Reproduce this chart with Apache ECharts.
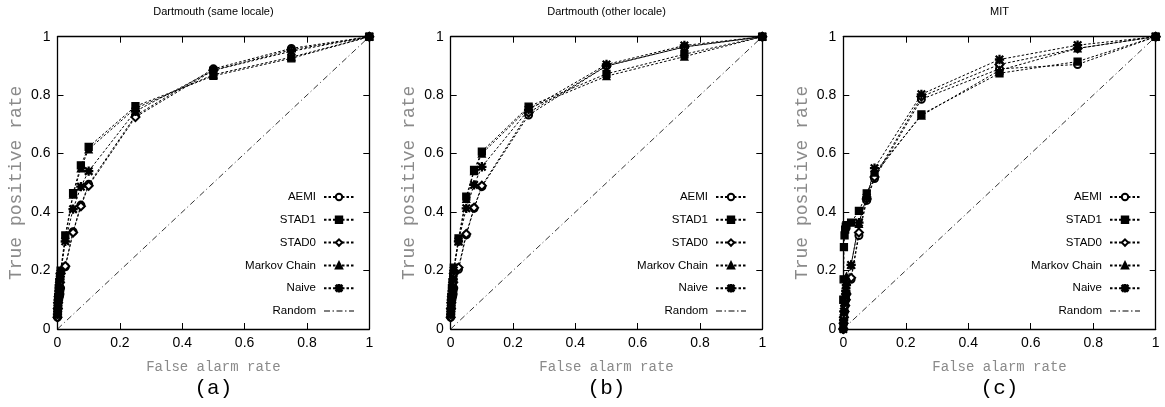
<!DOCTYPE html>
<html><head><meta charset="utf-8">
<script src="https://cdn.jsdelivr.net/npm/echarts@6/dist/echarts.min.js"></script>
<style>html,body{margin:0;padding:0;background:#fff}#c{width:1165px;height:407px}</style>
</head><body><div id="c"></div>
<script>
// ---- data ----
const panelTitles = ['Dartmouth (same locale)', 'Dartmouth (other locale)', 'MIT'];
const panelLetters = ['(a)', '(b)', '(c)'];
const seriesNames = ['AEMI', 'STAD1', 'STAD0', 'Markov Chain', 'Naive', 'Random'];
const tickLabels = ['0', '0.2', '0.4', '0.6', '0.8', '1'];
const fpr = [0, 0.001, 0.002, 0.004, 0.006, 0.008, 0.01, 0.025, 0.05, 0.075, 0.1, 0.25, 0.5, 0.75, 1];
const randomX = [0, 1];
const randomY = [0, 1];

const aemiA   = [0.04,0.06,0.08,0.10,0.11,0.12,0.14,0.213,0.333,0.424,0.495,0.730,0.890,0.960,1];
const stad1A  = [0.05,0.08,0.11,0.14,0.16,0.18,0.20,0.320,0.465,0.560,0.623,0.762,0.866,0.926,1];
const stad0A  = [0.04,0.07,0.09,0.11,0.13,0.16,0.19,0.215,0.330,0.420,0.490,0.725,0.885,0.955,1];
const markovA = [0.05,0.08,0.10,0.13,0.15,0.17,0.19,0.310,0.460,0.550,0.615,0.755,0.870,0.930,1];
const naiveA  = [0.05,0.07,0.10,0.12,0.14,0.17,0.19,0.300,0.410,0.487,0.540,0.745,0.885,0.950,1];

const aemiB   = [0.04,0.06,0.08,0.10,0.11,0.12,0.14,0.204,0.322,0.413,0.487,0.732,0.900,0.965,1];
const stad1B  = [0.05,0.08,0.11,0.14,0.16,0.18,0.21,0.310,0.453,0.544,0.607,0.761,0.873,0.940,1];
const stad0B  = [0.04,0.07,0.09,0.11,0.13,0.16,0.19,0.210,0.325,0.415,0.490,0.740,0.900,0.965,1];
const markovB = [0.05,0.08,0.10,0.13,0.15,0.17,0.20,0.300,0.445,0.540,0.600,0.755,0.865,0.932,1];
const naiveB  = [0.05,0.07,0.10,0.12,0.14,0.17,0.20,0.300,0.413,0.493,0.555,0.750,0.905,0.970,1];

const aemiC   = [0.00,0.02,0.04,0.06,0.08,0.10,0.12,0.170,0.320,0.440,0.515,0.786,0.890,0.905,1];
const stad1C  = [0.10,0.17,0.28,0.32,0.34,0.35,0.355,0.364,0.404,0.464,0.527,0.734,0.875,0.915,1];
const stad0C  = [0.00,0.02,0.04,0.06,0.08,0.10,0.12,0.175,0.330,0.445,0.520,0.795,0.905,0.960,1];
const markovC = [0.01,0.03,0.06,0.09,0.12,0.15,0.18,0.220,0.360,0.455,0.535,0.730,0.885,0.960,1];
const naiveC  = [0.00,0.03,0.06,0.09,0.11,0.13,0.15,0.219,0.364,0.450,0.550,0.803,0.922,0.971,1];

const panelData = [
  [aemiA, stad1A, stad0A, markovA, naiveA],
  [aemiB, stad1B, stad0B, markovB, naiveB],
  [aemiC, stad1C, stad0C, markovC, naiveC]
];

// ---- layout / style ----
const grids = [
  {left: 57.5, top: 36.7, width: 311.8, height: 292.3},
  {left: 450.7, top: 36.7, width: 311.6, height: 292.3},
  {left: 843.3, top: 36.7, width: 312.4, height: 292.3}
];
const legendRight = [810, 418, 24];
const sans = "'Liberation Sans','Arimo',sans-serif";
const mono = "'Liberation Mono','DejaVu Sans Mono',monospace";
const asterisk = 'path://M4.4,0 L5.6,0 L5.6,10 L4.4,10 Z M0,4.4 L10,4.4 L10,5.6 L0,5.6 Z M1.3,0.5 L9.5,8.7 L8.7,9.5 L0.5,1.3 Z M8.7,0.5 L9.5,1.3 L1.3,9.5 L0.5,8.7 Z';
// dash-dot sample for the legend (30x8 box, line in the middle)
const dashDotIcon = 'path://M0,0 L0.01,0 L0.01,0.01 Z M30,8 L29.99,8 L29.99,7.99 Z ' +
  'M0,3.6 L6,3.6 L6,4.4 L0,4.4 Z M8.5,3.6 L10,3.6 L10,4.4 L8.5,4.4 Z ' +
  'M12.5,3.6 L18.5,3.6 L18.5,4.4 L12.5,4.4 Z M21,3.6 L22.5,3.6 L22.5,4.4 L21,4.4 Z ' +
  'M25,3.6 L30,3.6 L30,4.4 L25,4.4 Z';
const symbols = [
  {symbol: 'emptyCircle', size: 7},
  {symbol: 'rect', size: 7},
  {symbol: 'emptyDiamond', size: 8},
  {symbol: 'triangle', size: 7},
  {symbol: asterisk, size: 8}
];

const option = {
  animation: false,
  backgroundColor: '#fff',
  title: [], grid: [], xAxis: [], yAxis: [], series: [], legend: []
};

const axisLineStyle = {color: '#000', width: 1.3};
grids.forEach((g, i) => {
  option.grid.push(Object.assign({containLabel: false}, g));
  option.title.push({
    text: panelTitles[i], left: g.left + g.width / 2, top: 6, textAlign: 'center', padding: 0,
    textStyle: {fontFamily: sans, fontSize: 11, fontWeight: 'normal', color: '#000'}
  });
  option.title.push({
    text: panelLetters[i], left: g.left + g.width / 2, top: 378, textAlign: 'center', padding: 0,
    textStyle: {fontFamily: mono, fontSize: 21, fontWeight: 'normal', color: '#000'}
  });
  const common = {
    type: 'value', min: 0, max: 1, interval: 0.2, gridIndex: i,
    splitLine: {show: false},
    axisLine: {show: true, onZero: false, lineStyle: axisLineStyle},
    axisTick: {show: true, inside: true, length: 6, lineStyle: {color: '#000', width: 1}}
  };
  option.xAxis.push(Object.assign({}, common, {
    position: 'bottom',
    name: 'False alarm rate', nameLocation: 'middle', nameGap: 31,
    nameTextStyle: {fontFamily: mono, fontSize: 14, color: '#8a8a8a'},
    axisLabel: {margin: 7, fontFamily: sans, fontSize: 14, color: '#000',
      formatter: v => tickLabels[Math.round(v * 5)]}
  }));
  option.xAxis.push(Object.assign({}, common, {position: 'top', axisLabel: {show: false}}));
  option.yAxis.push(Object.assign({}, common, {
    position: 'left',
    name: 'True positive rate', nameLocation: 'middle', nameGap: 32,
    nameTextStyle: {fontFamily: mono, fontSize: 18, color: '#8a8a8a'},
    axisLabel: {margin: 7, fontFamily: sans, fontSize: 14, color: '#000',
      formatter: v => tickLabels[Math.round(v * 5)]}
  }));
  option.yAxis.push(Object.assign({}, common, {position: 'right', axisLabel: {show: false}}));

  panelData[i].forEach((ys, k) => {
    option.series.push({
      name: seriesNames[k], type: 'line', xAxisIndex: i * 2, yAxisIndex: i * 2,
      data: fpr.map((x, j) => [x, ys[j]]),
      symbol: symbols[k].symbol, symbolSize: symbols[k].size, showSymbol: true,
      showAllSymbol: true,
      lineStyle: {color: '#000', width: 1, type: [2.5, 2]},
      itemStyle: {color: '#000', borderColor: '#000', borderWidth: 1.3},
      emphasis: {disabled: true}, z: 3
    });
  });
  option.series.push({
    name: 'Random', type: 'line', xAxisIndex: i * 2, yAxisIndex: i * 2,
    data: randomX.map((x, j) => [x, randomY[j]]),
    symbol: 'none', lineStyle: {color: '#000', width: 0.8, type: [6, 3, 1, 3]},
    itemStyle: {color: '#000'}, emphasis: {disabled: true}, z: 2
  });
  option.legend.push({
    data: seriesNames.map(n => n === 'Random'
      ? {name: n, icon: dashDotIcon, itemStyle: {color: '#000', borderWidth: 0}}
      : {name: n}),
    orient: 'vertical', align: 'right', padding: 0,
    right: legendRight[i], top: 190, itemWidth: 30, itemHeight: 8, itemGap: 8.8,
    selectedMode: false,
    textStyle: {fontFamily: sans, fontSize: 11.5, lineHeight: 14, color: '#000', padding: [0, 3, 0, 0]}
  });
});

const chart = echarts.init(document.getElementById('c'), null, {renderer: 'canvas'});
chart.setOption(option);
</script>
</body></html>
